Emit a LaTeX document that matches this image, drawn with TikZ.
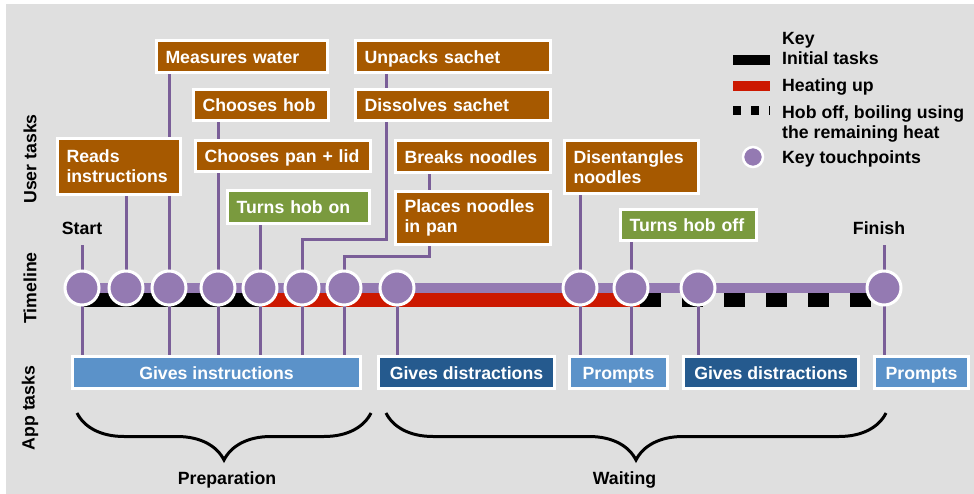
\documentclass[tikz,border=0pt]{standalone}
\usepackage{fontspec}
\setmainfont{Liberation Sans}
\usepackage{xcolor}
\usepackage{tikz}
\usetikzlibrary{positioning, calc, shadows, decorations.pathreplacing}

\definecolor{backgrey}{RGB}{223,223,223}
\definecolor{taskbrown}{RGB}{166,89,0}
\definecolor{hobgreen}{RGB}{122,154,62}
\definecolor{applight}{RGB}{91,146,201}
\definecolor{appdark}{RGB}{37,90,142}
\definecolor{touchpurple}{RGB}{148,122,178}
\definecolor{linkpurple}{RGB}{122,94,152}
\definecolor{heatred}{RGB}{204,24,0}

\pgfdeclarelayer{back}
\pgfdeclarelayer{links}
\pgfsetlayers{back,links,main}

\begin{document}
\begin{tikzpicture}[
    x=1pt, y=-1pt,
    font=\bfseries\fontsize{17.7}{20}\selectfont,
    box/.style={draw=white, line width=3pt, text=white, inner xsep=9pt, inner ysep=1pt,
        drop shadow={shadow xshift=1.5pt, shadow yshift=-1.5pt, opacity=0.2}},
    oneline/.style={text height=14pt, text depth=0pt},
    usertask/.style={box, fill=taskbrown, align=left},
    hobtask/.style={box, fill=hobgreen, align=left, oneline},
    apptask/.style={box, fill=#1, align=center, minimum height=32pt, oneline},
    touch/.style={circle, draw=white, line width=3pt, fill=touchpurple, minimum size=34pt, inner sep=0pt},
    link/.style={draw=linkpurple, line width=3pt},
    initbar/.style={draw=black, line width=14pt},
    heatbar/.style={draw=heatred, line width=14pt},
    offbar/.style={draw=black, line width=14pt, dash pattern=on 21pt off 21pt},
    keytext/.style={anchor=base west, inner sep=0pt},
    lane/.style={rotate=90, inner sep=0pt},
    brace/.style={decorate, decoration={brace, mirror, amplitude=47pt}, line width=3pt}
]
    \useasboundingbox (0,0) rectangle (974,494);
    \begin{pgfonlayer}{back}
        \fill[backgrey] (6,4) rectangle (974,494);
    \end{pgfonlayer}

    % Lanes
    \node[lane] (userlane) at (30,159) {User tasks};
    \node[lane] (timelane) at (30,288) {Timeline};
    \node[lane] (applane) at (30,408) {App tasks};

    % User tasks
    \node[usertask, oneline, text width=153pt, minimum height=32pt] (measures) at (242,56.5) {Measures water};
    \node[usertask, oneline, text width=117pt, minimum height=31pt] (hob) at (261,105) {Chooses hob};
    \node[usertask, text width=105pt, minimum height=56pt] (reads) at (119,166.5) {Reads\\instructions};
    \node[usertask, oneline, text width=157pt, minimum height=31pt] (pan) at (283,156) {Chooses pan + lid};
    \node[hobtask, text width=124pt, minimum height=33pt] (hobon) at (298.5,207) {Turns hob on};
    \node[usertask, oneline, text width=177pt, minimum height=32pt] (unpack) at (453,56.5) {Unpacks sachet};
    \node[usertask, oneline, text width=177pt, minimum height=31pt] (dissolve) at (453,105) {Dissolves sachet};
    \node[usertask, oneline, text width=137pt, minimum height=32pt] (breaks) at (473,156.5) {Breaks noodles};
    \node[usertask, text width=137pt, minimum height=53pt] (places) at (473,218) {Places noodles\\in pan};
    \node[usertask, text width=116pt, minimum height=53pt] (untangle) at (631.5,167) {Disentangles\\noodles};
    \node[hobtask, text width=118pt, minimum height=31pt] (hoboff) at (688.5,225) {Turns hob off};

    % Touchpoints
    \node[touch] (t1) at (82,288) {};
    \node[touch] (t2) at (126,288) {};
    \node[touch] (t3) at (169,288) {};
    \node[touch] (t4) at (218,288) {};
    \node[touch] (t5) at (260,288) {};
    \node[touch] (t6) at (302,288) {};
    \node[touch] (t7) at (344,288) {};
    \node[touch] (t8) at (397,288) {};
    \node[touch] (t9) at (580,288) {};
    \node[touch] (t10) at (631,288) {};
    \node[touch] (t11) at (698,288) {};
    \node[touch] (t12) at (884,288) {};
    \node[anchor=base, inner sep=0pt] (start) at (82,235) {Start};
    \node[anchor=base, inner sep=0pt] (finish) at (879,235) {Finish};

    % App tasks
    \node[apptask=applight, minimum width=288pt] (instruct) at (216.5,372.5) {Gives instructions};
    \node[apptask=appdark, minimum width=176pt] (distract) at (466.5,372.5) {Gives distractions};
    \node[apptask=applight, minimum width=98pt] (prompt) at (618.5,372.5) {Prompts};
    \node[apptask=appdark, minimum width=175pt] (distract2) at (771,372.5) {Gives distractions};
    \node[apptask=applight, minimum width=94pt] (prompt2) at (921.5,372.5) {Prompts};

    % Bends
    \coordinate (k6) at (386,240);
    \coordinate (k7) at (429,257);
    \coordinate (heaton) at (262,300);
    \coordinate (heatoff) at (640,300);

    % Timeline and connections
    \begin{pgfonlayer}{links}
        \draw[touchpurple, line width=10pt] (t1.center) -- (t12.center);
        \draw[initbar] (t1.center |- heaton) -- (heaton);
        \draw[heatbar] (heaton) -- (heatoff);
        \draw[offbar] (heatoff) -- (t12.center |- heatoff);

        \draw[link] (t1.center) -- ([yshift=-10pt]start.base);
        \draw[link] (t1.center) -- (t1 |- instruct.north);
        \draw[link] (t2.center) -- (t2 |- reads.south);
        \draw[link] (t3.center) -- (t3 |- measures.south);
        \draw[link] (t3.center) -- (t3 |- instruct.north);
        \draw[link] (t4 |- hob.south) -- (t4 |- pan.north);
        \draw[link] (t4.center) -- (t4 |- pan.south);
        \draw[link] (t4.center) -- (t4 |- instruct.north);
        \draw[link] (t5.center) -- (t5 |- hobon.south);
        \draw[link] (t5.center) -- (t5 |- instruct.north);
        \draw[link] (k6 |- unpack.south) -- (k6 |- dissolve.north);
        \draw[link] (t6.center) |- (k6) -- (k6 |- dissolve.south);
        \draw[link] (t6.center) -- (t6 |- instruct.north);
        \draw[link] (k7 |- breaks.south) -- (k7 |- places.north);
        \draw[link] (t7.center) |- (k7) -- (k7 |- places.south);
        \draw[link] (t7.center) -- (t7 |- instruct.north);
        \draw[link] (t8.center) -- (t8 |- distract.north);
        \draw[link] (t9.center) -- (t9 |- untangle.south);
        \draw[link] (t9.center) -- (t9 |- prompt.north);
        \draw[link] (t10.center) -- (t10 |- hoboff.south);
        \draw[link] (t10.center) -- (t10 |- prompt.north);
        \draw[link] (t11.center) -- (t11 |- distract2.north);
        \draw[link] (t12.center) -- ([yshift=-10pt]t12 |- finish.base);
        \draw[link] (t12.center) -- (t12 |- prompt2.north);
    \end{pgfonlayer}

    % Phases
    \coordinate (prepA) at (77,413);
    \coordinate (prepB) at (371,413);
    \coordinate (waitA) at (386,413);
    \coordinate (waitB) at (886,413);
    \draw[brace] (prepA) -- (prepB);
    \draw[brace] (waitA) -- (waitB);
    \node[anchor=base, inner sep=0pt] (prep) at (227,484) {Preparation};
    \node[anchor=base, inner sep=0pt] (wait) at (624.5,484) {Waiting};

    % Key
    \node[keytext] (key) at (782,45) {Key};
    \node[keytext] (initial) at (782,65) {Initial tasks};
    \node[keytext] (heating) at (782,92) {Heating up};
    \node[keytext, anchor=north west, align=left] (hoboffkey) at (782,105) {Hob off, boiling using\\the remaining heat};
    \node[keytext] (touchkey) at (782,164) {Key touchpoints};
    \draw[initbar, line width=10pt] (733,60) -- (770,60);
    \draw[heatbar, line width=10pt] (733,86) -- (770,86);
    \draw[offbar, line width=9pt, dash pattern=on 8pt off 10pt] (733,111) -- (770,111);
    \node[touch, minimum size=20pt, line width=2.5pt] (keydot) at (753,157) {};
\end{tikzpicture}
\end{document}
